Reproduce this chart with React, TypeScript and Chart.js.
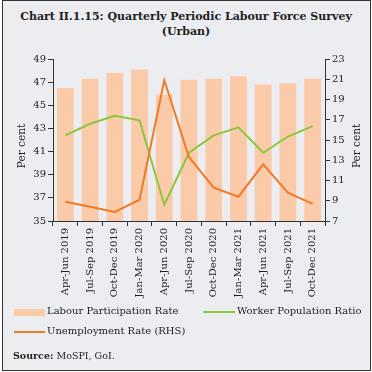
import React, { useEffect, useRef } from "react";
import { Chart, registerables } from "chart.js";

Chart.register(...registerables);

const categories = [
  "Apr-Jun 2019", "Jul-Sep 2019", "Oct-Dec 2019", "Jan-Mar 2020", "Apr-Jun 2020",
  "Jul-Sep 2020", "Oct-Dec 2020", "Jan-Mar 2021", "Apr-Jun 2021", "Jul-Sep 2021", "Oct-Dec 2021",
];
const labourParticipationRate = [46.5, 47.3, 47.8, 48.1, 45.9, 47.2, 47.3, 47.5, 46.8, 46.9, 47.3];
const workerPopulationRatio = [42.4, 43.4, 44.1, 43.7, 36.4, 40.9, 42.4, 43.1, 40.9, 42.3, 43.2];
const unemploymentRate = [8.9, 8.4, 7.9, 9.1, 20.9, 13.3, 10.3, 9.4, 12.6, 9.8, 8.7];

const leftTicks = [35, 37, 39, 41, 43, 45, 47, 49];
const rightTicks = [7, 9, 11, 13, 15, 17, 19, 21, 23];

const BG = "#ECEDF1";
const BAR = "#FBCBA9";
const GREEN = "#8CC63F";
const ORANGE = "#F07A26";
const TXT = "#222";
const FONT = "'DejaVu Serif', serif";

export default function App() {
  const ref = useRef<HTMLCanvasElement | null>(null);
  useEffect(() => {
    if (!ref.current) return;
    const tickFont = { family: FONT, size: 10 };
    const chart = new Chart(ref.current, {
      type: "bar",
      data: {
        labels: categories,
        datasets: [
          {
            type: "line",
            label: "Unemployment Rate (RHS)",
            data: unemploymentRate,
            borderColor: ORANGE,
            backgroundColor: ORANGE,
            borderWidth: 2,
            pointRadius: 0,
            yAxisID: "y1",
            order: 1,
            tension: 0,
          },
          {
            type: "line",
            label: "Worker Population Ratio",
            data: workerPopulationRatio,
            borderColor: GREEN,
            backgroundColor: GREEN,
            borderWidth: 2,
            pointRadius: 0,
            yAxisID: "y",
            order: 2,
            tension: 0,
          },
          {
            type: "bar",
            label: "Labour Participation Rate",
            data: labourParticipationRate,
            backgroundColor: BAR,
            yAxisID: "y",
            order: 3,
            barPercentage: 0.68,
            categoryPercentage: 1,
          },
        ],
      },
      options: {
        animation: false,
        responsive: false,
        layout: { padding: { top: 9, left: 0, right: 0, bottom: 0 } },
        plugins: { legend: { display: false }, tooltip: { enabled: false } },
        scales: {
          x: {
            grid: { display: true, drawOnChartArea: false, drawTicks: true, tickLength: 5, color: "#333", offset: true },
            border: { display: true, color: "#333" },
            ticks: { font: tickFont, color: TXT, minRotation: 90, maxRotation: 90, autoSkip: false, padding: 2 },
            afterFit: (s: any) => { s.height = 79; },
          },
          y: {
            position: "left",
            min: 35,
            max: 49,
            afterBuildTicks: (s: any) => { s.ticks = leftTicks.map((v) => ({ value: v })); },
            grid: { display: true, drawOnChartArea: false, drawTicks: true, tickLength: 5, color: "#333" },
            border: { display: true, color: "#333" },
            ticks: { font: tickFont, color: TXT, padding: 2 },
            afterFit: (s: any) => { s.width = 53; },
          },
          y1: {
            position: "right",
            min: 7,
            max: 23,
            afterBuildTicks: (s: any) => { s.ticks = rightTicks.map((v) => ({ value: v })); },
            grid: { display: true, drawOnChartArea: false, drawTicks: true, tickLength: 5, color: "#333" },
            border: { display: true, color: "#333" },
            ticks: { font: tickFont, color: TXT, padding: 2 },
            afterFit: (s: any) => { s.width = 47; },
          },
        },
      },
    });
    return () => chart.destroy();
  }, []);

  const legendText: React.CSSProperties = { fontFamily: FONT, fontSize: 10, color: TXT, whiteSpace: "nowrap" };
  const axisTitle: React.CSSProperties = {
    position: "absolute", top: 140, width: 60, textAlign: "center", fontFamily: FONT, fontSize: 10.5,
    color: TXT, transform: "rotate(-90deg)", transformOrigin: "center center", lineHeight: "12px", whiteSpace: "nowrap",
  };
  return (
    <div style={{ position: "fixed", left: 0, top: 0, width: 372, height: 372, background: "#fff" }}>
      <div style={{ position: "absolute", left: 2, top: 0, width: 367, height: 369, background: BG, border: "1px solid #333" }} />
      <div style={{ position: "absolute", left: 0, top: 9, width: 372, textAlign: "center", fontFamily: FONT, fontWeight: "bold", fontSize: 11, lineHeight: "15px", color: TXT }}>
        Chart II.1.15: Quarterly Periodic Labour Force Survey<br />(Urban)
      </div>
      <canvas ref={ref} width={372} height={250} style={{ position: "absolute", left: 0, top: 50, width: 372, height: 250 }} />
      <div style={{ ...axisTitle, left: 21 - 30 }}>Per cent</div>
      <div style={{ ...axisTitle, left: 356 - 30 }}>Per cent</div>
      <div style={{ position: "absolute", left: 14, top: 309, width: 31, height: 7, background: BAR }} />
      <div style={{ position: "absolute", left: 47, top: 305, ...legendText }}>Labour Participation Rate</div>
      <div style={{ position: "absolute", left: 203, top: 311, width: 32, height: 2, background: GREEN }} />
      <div style={{ position: "absolute", left: 237, top: 305, ...legendText }}>Worker Population Ratio</div>
      <div style={{ position: "absolute", left: 14, top: 331, width: 31, height: 2, background: ORANGE }} />
      <div style={{ position: "absolute", left: 47, top: 325, ...legendText }}>Unemployment Rate (RHS)</div>
      <div style={{ position: "absolute", left: 13, top: 350, fontFamily: FONT, fontSize: 9.5, color: TXT, whiteSpace: "nowrap" }}>
        <b>Source:</b> MoSPI, GoI.
      </div>
    </div>
  );
}
